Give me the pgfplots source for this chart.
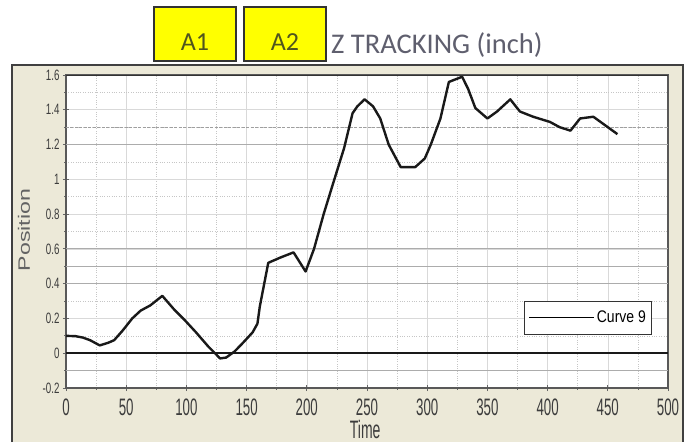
\documentclass[border=0pt]{standalone}
\usepackage{pgfplots}
\pgfplotsset{compat=1.18}
\usepackage{fontspec}
\setmainfont{Liberation Sans}
\newfontfamily\narrow[FakeStretch=0.65]{Liberation Sans}
\newfontfamily\calib{Carlito}

\definecolor{frameBg}{RGB}{236,233,216}
\definecolor{boxYellow}{RGB}{255,255,0}
\definecolor{boxText}{RGB}{80,85,30}
\definecolor{titleGray}{RGB}{95,95,110}
\definecolor{lblGray}{RGB}{60,60,60}

% x tick labels are drawn tall and narrow in the reference
\newcommand{\xl}[1]{\scalebox{0.95}[1.7]{\fontsize{14}{14}\selectfont #1}}

\pgfplotstableread{
t pos
0 0.100
8 0.098
14 0.090
20 0.075
28 0.045
35 0.060
40 0.075
47 0.130
55 0.200
62 0.245
70 0.275
80 0.330
90 0.250
98 0.195
108 0.120
118 0.040
128 -0.030
133 -0.025
140 0.010
147 0.060
155 0.120
159 0.170
161 0.270
168 0.520
178 0.550
189 0.580
199 0.470
206 0.600
214 0.800
222 0.980
231 1.180
238 1.380
242 1.420
248 1.460
255 1.420
261 1.350
268 1.200
278 1.070
290 1.070
298 1.120
303 1.200
311 1.350
318 1.560
329 1.590
334 1.520
340 1.410
350 1.350
358 1.390
369 1.460
377 1.390
388 1.360
402 1.330
410 1.300
419 1.280
427 1.350
438 1.360
448 1.310
458 1.260
}\curvenine

\begin{document}
\begin{tikzpicture}
\useasboundingbox (0pt,0pt) rectangle (691pt,-442pt);
\fill[white] (0pt,0pt) rectangle (691pt,-442pt);

% chart frame
\fill[frameBg] (12pt,-65pt) rectangle (683pt,-442pt);
\draw[black!75, line width=1.5pt] (12pt,-442pt) -- (12pt,-65pt) -- (683pt,-65pt) -- (683pt,-442pt);

\begin{axis}[
  at={(66pt,-388pt)}, anchor=south west,
  scale only axis, width=602pt, height=313pt,
  xmin=0, xmax=500, ymin=-0.2, ymax=1.6,
  axis background/.style={fill=white},
  xtick={0,50,100,150,200,250,300,350,400,450,500},
  xticklabels={\xl{0},\xl{50},\xl{100},\xl{150},\xl{200},\xl{250},\xl{300},\xl{350},\xl{400},\xl{450},\xl{500}},
  ytick={-0.2,0,0.2,0.4,0.6,0.8,1,1.2,1.4,1.6},
  yticklabels={-0.2,0,0.2,0.4,0.6,0.8,1,1.2,1.4,1.6},
  minor x tick num=1, minor y tick num=1,
  xtick pos=left, ytick pos=left,
  tick align=center, major tick length=6pt, minor tick length=3pt,
  tick style={black!60, line width=0.8pt},
  grid=both,
  major grid style={gray!30, line width=0.6pt},
  minor grid style={gray!45, dotted, line width=0.6pt},
  axis line style={black!65, line width=1.2pt},
  y tick label style={font=\fontsize{15}{15}\narrow, text=lblGray},
  x tick label style={text=lblGray, yshift=-4pt},
  xlabel={\scalebox{1}[1.8]{\fontsize{14}{14}\selectfont Time}},
  xlabel style={at={(rel axis cs:0.497,-0.131)}, anchor=center, text=lblGray},
  ylabel={\scalebox{1.4}[1]{\fontsize{16.5}{16.5}\selectfont Position}},
  ylabel style={at={(rel axis cs:-0.07,0.505)}, anchor=center, rotate=0, text=lblGray!80},
  legend style={at={(axis cs:487,0.303)}, anchor=north east,
    draw=black!80, line width=0.9pt, fill=white,
    inner xsep=4pt, inner ysep=8pt,
    /tikz/every even column/.append style={column sep=0pt}},
  legend cell align=left,
  legend image code/.code={\draw[black, line width=1pt] (0pt,0pt) -- (65pt,0pt);},
]
% heavier reference lines of the original grid
\draw[gray!65, line width=0.8pt] (axis cs:0,1.2) -- (axis cs:500,1.2);
\draw[gray!75, line width=0.8pt, dash pattern=on 3pt off 1.5pt] (axis cs:0,1.3) -- (axis cs:500,1.3);
\draw[gray!65, line width=0.8pt] (axis cs:0,0.6) -- (axis cs:500,0.6);
\draw[gray!65, line width=0.8pt] (axis cs:0,0.5) -- (axis cs:500,0.5);
\draw[gray!65, line width=0.8pt] (axis cs:0,0.4) -- (axis cs:500,0.4);
\draw[gray!65, line width=0.8pt] (axis cs:0,-0.1) -- (axis cs:500,-0.1);
\draw[black!90, line width=1.8pt] (axis cs:0,0) -- (axis cs:500,0);

\addplot[black!90, line width=2.4pt, line join=round] table[x=t, y=pos] {\curvenine};
\addlegendentry{\scalebox{1}[1.2]{\fontsize{14}{14}\selectfont Curve 9}}

\draw[black!80, line width=2pt] (rel axis cs:0,1) -- (rel axis cs:1,1);
\end{axis}

% yellow buttons and heading above the chart
\draw[fill=boxYellow, draw=black!80, line width=1.2pt] (154pt,-7pt) rectangle (236pt,-61pt);
\node[text=boxText, font=\fontsize{26}{26}\calib] at (195pt,-42pt) {A1};
\draw[fill=boxYellow, draw=black!80, line width=1.2pt] (244pt,-7pt) rectangle (326pt,-61pt);
\node[text=boxText, font=\fontsize{26}{26}\calib] at (285pt,-42pt) {A2};
\node[anchor=base west, inner sep=0pt, text=titleGray, font=\fontsize{28.5}{28.5}\calib] at (331pt,-53pt) {Z TRACKING (inch)};
\end{tikzpicture}
\end{document}
